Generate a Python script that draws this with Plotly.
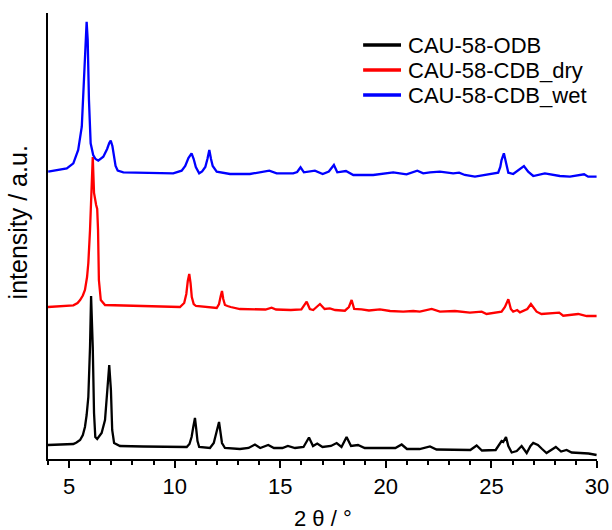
import plotly.graph_objects as go

# Powder XRD patterns, 2theta in degrees, intensity in arbitrary units
# (each pattern is given relative to its own zero and stacked with an offset)

two_theta_odb = [4.00, 4.60, 5.00, 5.20, 5.35, 5.52, 5.65, 5.75, 5.83, 5.91, 5.99, 6.04, 6.12, 6.18,
                 6.24, 6.33, 6.54, 6.70, 6.81, 6.90, 6.98, 7.04, 7.13, 7.41, 8.50, 9.50, 10.57,
                 10.70, 10.80, 10.88, 10.96, 11.02, 11.08, 11.16, 11.40, 11.67, 11.85, 11.95, 12.03,
                 12.10, 12.16, 12.24, 12.38, 13.09, 13.50, 13.80, 14.05, 14.43, 14.70, 15.10,
                 15.36, 15.70, 16.10, 16.36, 16.55, 16.75, 17.00, 17.40, 17.67, 17.90, 18.14, 18.35,
                 18.68, 19.00, 20.00, 20.45, 20.75, 21.00, 21.60, 22.09, 22.40, 23.50, 24.00, 24.30,
                 24.55, 25.20, 25.40, 25.48, 25.56, 25.69, 25.80, 25.96, 26.20, 26.43, 26.67, 26.85,
                 26.98, 27.20, 27.40, 27.61, 28.05, 28.30, 28.56, 28.80, 29.20, 29.60, 29.98]
intensity_odb = [14, 14.3, 14.8, 15, 16.5, 19, 24, 32, 44, 62, 112, 163, 112, 46,
                 22, 20, 26, 39, 69, 94, 69, 29, 16, 13, 12.5, 12, 12,
                 15, 22, 32, 41, 30, 18, 12, 11.5, 11, 16, 25, 33,
                 37, 28, 16, 11, 10, 11, 14.5, 11, 14, 11, 11,
                 13, 11, 12, 21.5, 13, 15.5, 12, 13, 16, 12, 22, 13,
                 14, 11, 11, 11, 14.5, 10, 10, 12.5, 9.5, 9, 9, 13.5,
                 8.5, 9, 16, 18, 17, 22, 13, 6.5, 8, 13, 6, 13,
                 16, 14, 10, 6, 12, 7.5, 9, 6.5, 6, 5.5, 4]

two_theta_dry = [4.00, 4.70, 5.20, 5.40, 5.52, 5.65, 5.75, 5.85, 5.91, 5.99, 6.07, 6.12, 6.18, 6.23,
                 6.28, 6.33, 6.37, 6.41, 6.50, 6.70, 8.50, 10.25, 10.45, 10.55, 10.62, 10.69,
                 10.75, 10.81, 10.90, 11.01, 11.99, 12.10, 12.18, 12.24, 12.30, 12.38, 12.50, 12.65,
                 13.09, 13.50, 14.30, 14.59, 14.80, 15.50, 16.00, 16.25, 16.40, 16.56, 16.88, 17.10,
                 17.35, 17.60, 18.06, 18.25, 18.38, 18.50, 18.85, 19.20, 19.72, 20.20, 20.82, 21.30,
                 21.61, 22.17, 22.56, 23.27, 23.98, 24.54, 24.77, 25.48, 25.64, 25.80, 25.92, 26.03,
                 26.22, 26.35, 26.70, 26.87, 27.00, 27.14, 27.37, 27.77, 28.21, 28.40, 29.11, 29.51,
                 29.98]
intensity_dry = [12, 12.8, 13.7, 16, 19, 23.5, 29, 42, 56, 89, 129, 162, 126, 118,
                 114, 110, 89, 39, 19, 14, 13, 12, 16, 25, 38, 45,
                 36, 22, 15, 13, 11, 15, 23, 28, 20, 14, 13, 12,
                 10, 10, 9.5, 11.3, 9.5, 9, 9.5, 17.3, 10, 9, 15, 10,
                 10.7, 9, 8.3, 12, 19, 10, 9.7, 8.5, 9.7, 8, 7.3, 8,
                 7.3, 10, 7.3, 8, 6.3, 7.3, 5, 7.3, 12, 19.7, 10, 7.3,
                 9, 6.7, 10, 15, 11, 7.3, 5, 5.7, 6.3, 3.3, 5, 3,
                 3]

two_theta_wet = [4.01, 4.89, 5.20, 5.43, 5.60, 5.70, 5.79, 5.83, 5.88, 5.94, 6.02, 6.14, 6.25, 6.38,
                 6.62, 6.80, 6.90, 6.97, 7.05, 7.12, 7.20, 7.30, 7.57, 9.93, 10.33, 10.50, 10.65,
                 10.80, 10.90, 11.00, 11.16, 11.30, 11.45, 11.55, 11.64, 11.72, 11.80, 11.99, 12.62,
                 13.56, 14.19, 14.48, 14.83, 15.61, 15.80, 15.96, 16.12, 16.64, 17.01, 17.30, 17.54,
                 17.70, 18.11, 18.46, 19.40, 20.35, 20.98, 21.49, 21.77, 22.09, 22.56, 23.19, 23.47,
                 23.74, 24.22, 24.69, 25.01, 25.32, 25.42, 25.48, 25.59, 25.69, 25.80, 26.03, 26.35,
                 26.54, 26.74, 26.98, 27.53, 28.24, 28.72, 29.39, 29.58, 29.98]
intensity_wet = [12.3, 15.7, 20.7, 34, 57.3, 100.7, 144, 162.3, 144, 84, 40.7, 29, 25, 23.3,
                 27.3, 35, 41, 43.3, 38, 28, 18, 13.5, 11.7, 10.7, 13.3, 18, 26,
                 30.7, 25, 17, 10.7, 12.5, 17, 25, 34, 25, 18, 12.3, 10,
                 10, 12.3, 13.3, 10.7, 10.7, 12, 16.7, 11.7, 13.3, 10, 12.5, 19,
                 11.7, 13, 9, 9, 11.7, 9.7, 13.3, 10.7, 11.7, 12.3, 10.7, 11.3,
                 9, 7.3, 9, 10, 11.3, 17, 24, 30.7, 20.7, 11.3, 10, 14.7,
                 18, 12.3, 8, 10.7, 8, 7.3, 9.7, 7.3, 7.3]

names = ["CAU-58-ODB", "CAU-58-CDB_dry", "CAU-58-CDB_wet"]
colors = ["#000000", "#ff0000", "#0000ff"]
offsets = [0, 140, 275]
patterns = [(two_theta_odb, intensity_odb),
            (two_theta_dry, intensity_dry),
            (two_theta_wet, intensity_wet)]

FONT = "Liberation Sans, Arial, sans-serif"

fig = go.Figure()
for name, color, off, (tt, inten) in zip(names, colors, offsets, patterns):
    fig.add_trace(go.Scatter(
        x=tt, y=[v + off for v in inten], mode="lines", name=name,
        line=dict(color=color, width=2.3), showlegend=False,
    ))

# legend drawn as line samples and labels
leg_y = [0.928, 0.872, 0.816]
for name, color, yy in zip(names, colors, leg_y):
    fig.add_shape(type="line", xref="paper", yref="paper",
                  x0=0.574, x1=0.643, y0=yy, y1=yy,
                  line=dict(color=color, width=3.5))
    fig.add_annotation(xref="paper", yref="paper", x=0.652, y=yy,
                       text=name, showarrow=False, xanchor="left", yanchor="middle",
                       font=dict(family=FONT, size=22, color="#000000"))

# axis titles
fig.add_annotation(xref="paper", yref="paper", x=0.50, y=-0.133,
                   text="2 θ / °", showarrow=False, xanchor="center", yanchor="middle",
                   font=dict(family=FONT, size=22, color="#000000"))
fig.add_annotation(xref="paper", yref="paper", x=-0.055, y=0.53,
                   text="intensity / a.u.", showarrow=False, textangle=-90,
                   xanchor="center", yanchor="middle",
                   font=dict(family=FONT, size=25, color="#000000"))

fig.update_layout(
    template="none",
    width=612, height=530,
    margin=dict(l=48, r=15, t=13, b=71),
    paper_bgcolor="#ffffff", plot_bgcolor="#ffffff",
    font=dict(family=FONT, size=22, color="#000000"),
    xaxis=dict(
        range=[4, 30], tickvals=[5, 10, 15, 20, 25, 30], automargin=False,
        ticks="outside", ticklen=7, tickwidth=1.5, tickcolor="#000000",
        minor=dict(dtick=1, tick0=0, ticks="outside", ticklen=4, tickwidth=1.5, tickcolor="#000000"),
        showline=True, linecolor="#000000", linewidth=1.8,
        showgrid=False, zeroline=False,
        tickfont=dict(family=FONT, size=22, color="#000000"),
    ),
    yaxis=dict(
        range=[0, 446], showticklabels=False, ticks="", automargin=False,
        showline=True, linecolor="#000000", linewidth=1.8,
        showgrid=False, zeroline=False,
    ),
)

fig.write_html("out.html")
